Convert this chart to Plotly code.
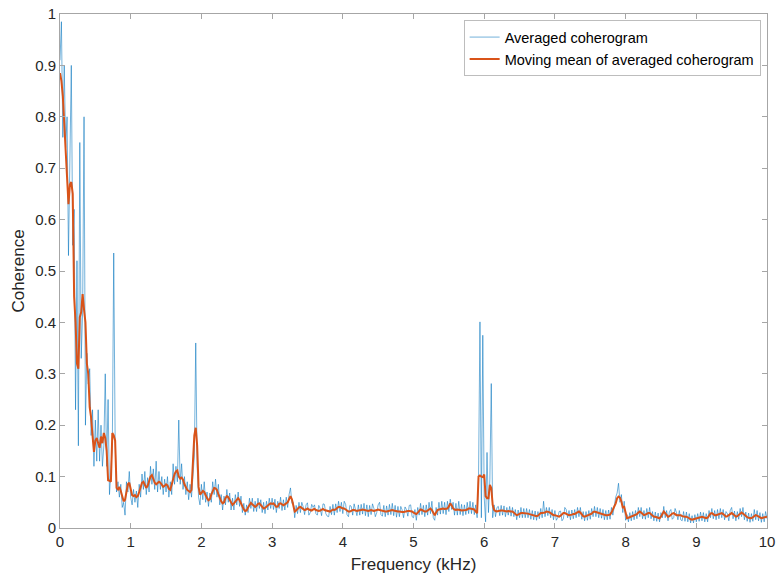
import plotly.graph_objects as go

# Frequency grid: 0 to 10 kHz, step 0.02 kHz (501 bins)
freq_start_khz = 0.0
freq_step_khz = 0.02

averaged_coherogram = [
    0.91, 0.985, 0.76, 0.90, 0.74, 0.80, 0.53, 0.71, 0.90, 0.55,
    0.62, 0.23, 0.52, 0.16, 0.75, 0.33, 0.42, 0.80, 0.20, 0.34,
    0.28, 0.31, 0.18, 0.23, 0.12, 0.21, 0.13, 0.23, 0.13, 0.20,
    0.12, 0.16, 0.30, 0.12, 0.25, 0.065, 0.11, 0.16, 0.535, 0.17,
    0.07, 0.09, 0.06, 0.085, 0.04, 0.05, 0.025, 0.09, 0.07, 0.11,
    0.06, 0.045, 0.075, 0.05, 0.072, 0.04, 0.085, 0.06, 0.105, 0.075,
    0.11, 0.065, 0.098, 0.07, 0.12, 0.085, 0.115, 0.075, 0.13, 0.07,
    0.11, 0.075, 0.10, 0.065, 0.095, 0.07, 0.10, 0.06, 0.09, 0.065,
    0.125, 0.085, 0.12, 0.09, 0.21, 0.085, 0.125, 0.075, 0.10, 0.065,
    0.09, 0.055, 0.085, 0.06, 0.10, 0.14, 0.36, 0.12, 0.06, 0.045,
    0.085, 0.055, 0.09, 0.05, 0.07, 0.042, 0.068, 0.05, 0.09, 0.065,
    0.095, 0.06, 0.085, 0.045, 0.065, 0.035, 0.062, 0.045, 0.075, 0.05,
    0.068, 0.035, 0.058, 0.035, 0.065, 0.045, 0.07, 0.042, 0.062, 0.03,
    0.048, 0.025, 0.045, 0.03, 0.058, 0.038, 0.058, 0.032, 0.052, 0.032,
    0.058, 0.038, 0.055, 0.03, 0.05, 0.028, 0.052, 0.035, 0.058, 0.038,
    0.058, 0.036, 0.056, 0.030, 0.052, 0.038, 0.060, 0.034, 0.055, 0.035,
    0.060, 0.040, 0.065, 0.078, 0.048, 0.050, 0.020, 0.044, 0.028, 0.050,
    0.030, 0.050, 0.041, 0.026, 0.045, 0.049, 0.025, 0.030, 0.046, 0.040,
    0.045, 0.028, 0.025, 0.044, 0.038, 0.024, 0.047, 0.046, 0.028, 0.023,
    0.022, 0.042, 0.026, 0.046, 0.025, 0.047, 0.030, 0.052, 0.032, 0.050,
    0.028, 0.052, 0.046, 0.026, 0.022, 0.044, 0.042, 0.025, 0.047, 0.036,
    0.024, 0.045, 0.025, 0.046, 0.027, 0.048, 0.024, 0.045, 0.022, 0.044,
    0.026, 0.047, 0.038, 0.022, 0.030, 0.045, 0.050, 0.026, 0.023, 0.044,
    0.022, 0.043, 0.025, 0.046, 0.026, 0.048, 0.024, 0.044, 0.021, 0.042,
    0.022, 0.042, 0.035, 0.020, 0.041, 0.036, 0.023, 0.044, 0.045, 0.022,
    0.020, 0.036, 0.015, 0.040, 0.025, 0.048, 0.026, 0.044, 0.022, 0.045,
    0.025, 0.050, 0.028, 0.052, 0.020, 0.015, 0.040, 0.025, 0.050, 0.027,
    0.052, 0.028, 0.050, 0.026, 0.052, 0.032, 0.056, 0.036, 0.050, 0.025,
    0.048, 0.025, 0.052, 0.026, 0.046, 0.024, 0.045, 0.026, 0.050, 0.028,
    0.052, 0.028, 0.050, 0.026, 0.045, 0.020, 0.100, 0.401, 0.020, 0.375,
    0.060, 0.012, 0.147, 0.030, 0.095, 0.281, 0.020, 0.045, 0.022, 0.040,
    0.042, 0.024, 0.044, 0.025, 0.043, 0.022, 0.040, 0.025, 0.042, 0.023,
    0.040, 0.022, 0.036, 0.016, 0.035, 0.020, 0.040, 0.020, 0.038, 0.020,
    0.038, 0.020, 0.036, 0.017, 0.034, 0.016, 0.033, 0.015, 0.032, 0.018,
    0.038, 0.020, 0.052, 0.022, 0.040, 0.024, 0.040, 0.020, 0.036, 0.016,
    0.034, 0.015, 0.020, 0.032, 0.033, 0.014, 0.018, 0.040, 0.036, 0.020,
    0.034, 0.016, 0.035, 0.018, 0.036, 0.020, 0.040, 0.022, 0.040, 0.017,
    0.032, 0.014, 0.032, 0.015, 0.034, 0.017, 0.038, 0.022, 0.042, 0.022,
    0.040, 0.020, 0.038, 0.019, 0.036, 0.016, 0.034, 0.016, 0.035, 0.017,
    0.040, 0.025, 0.045, 0.060, 0.068, 0.087, 0.050, 0.065, 0.030, 0.052,
    0.015, 0.026, 0.012, 0.030, 0.014, 0.032, 0.016, 0.034, 0.018, 0.040,
    0.022, 0.040, 0.018, 0.034, 0.017, 0.038, 0.020, 0.040, 0.018, 0.032,
    0.014, 0.031, 0.013, 0.029, 0.012, 0.030, 0.020, 0.042, 0.020, 0.034,
    0.014, 0.032, 0.036, 0.017, 0.020, 0.038, 0.030, 0.016, 0.034, 0.016,
    0.014, 0.032, 0.013, 0.031, 0.012, 0.028, 0.010, 0.024, 0.010, 0.026,
    0.012, 0.028, 0.013, 0.031, 0.014, 0.030, 0.012, 0.028, 0.012, 0.034,
    0.020, 0.038, 0.018, 0.034, 0.016, 0.036, 0.018, 0.038, 0.020, 0.036,
    0.016, 0.032, 0.028, 0.014, 0.034, 0.040, 0.018, 0.033, 0.014, 0.032,
    0.017, 0.038, 0.022, 0.040, 0.016, 0.031, 0.013, 0.029, 0.011, 0.028,
    0.013, 0.036, 0.016, 0.034, 0.014, 0.030, 0.011, 0.028, 0.012, 0.032,
    0.018,
]

moving_mean = [
    0.885, 0.87, 0.84, 0.79, 0.74, 0.683, 0.63, 0.668, 0.673, 0.65,
    0.45, 0.40, 0.32, 0.31, 0.41, 0.42, 0.455, 0.425, 0.40, 0.32,
    0.30, 0.235, 0.215, 0.18, 0.148, 0.17, 0.175, 0.165, 0.156, 0.178,
    0.165, 0.185, 0.175, 0.15, 0.093, 0.092, 0.09, 0.185, 0.18, 0.17,
    0.078, 0.075, 0.08, 0.072, 0.06, 0.052, 0.055, 0.07, 0.085, 0.088,
    0.078, 0.064, 0.062, 0.064, 0.060, 0.062, 0.070, 0.080, 0.088, 0.090,
    0.085, 0.078, 0.082, 0.092, 0.100, 0.103, 0.095, 0.088, 0.085, 0.088,
    0.090, 0.088, 0.083, 0.080, 0.082, 0.085, 0.083, 0.076, 0.074, 0.085,
    0.100, 0.105, 0.110, 0.112, 0.100, 0.096, 0.098, 0.094, 0.085, 0.078,
    0.074, 0.072, 0.070, 0.074, 0.120, 0.180, 0.195, 0.160, 0.080, 0.065,
    0.068, 0.072, 0.070, 0.062, 0.058, 0.054, 0.056, 0.065, 0.072, 0.078,
    0.077, 0.074, 0.066, 0.058, 0.052, 0.048, 0.050, 0.058, 0.062, 0.060,
    0.054, 0.048, 0.045, 0.048, 0.052, 0.055, 0.058, 0.054, 0.047, 0.041,
    0.036, 0.033, 0.034, 0.040, 0.046, 0.049, 0.046, 0.043, 0.041, 0.043,
    0.047, 0.048, 0.044, 0.040, 0.038, 0.039, 0.042, 0.045, 0.046, 0.048,
    0.047, 0.048, 0.045, 0.041, 0.042, 0.047, 0.048, 0.046, 0.044, 0.046,
    0.048, 0.050, 0.056, 0.062, 0.056, 0.042, 0.032, 0.034, 0.038, 0.040,
    0.041, 0.039, 0.036, 0.035, 0.036, 0.038, 0.036, 0.035, 0.034, 0.036,
    0.037, 0.035, 0.034, 0.033, 0.034, 0.036, 0.037, 0.035, 0.034, 0.033,
    0.032, 0.032, 0.034, 0.036, 0.035, 0.036, 0.039, 0.041, 0.041, 0.039,
    0.038, 0.038, 0.036, 0.033, 0.032, 0.032, 0.034, 0.035, 0.035, 0.034,
    0.033, 0.034, 0.034, 0.035, 0.036, 0.035, 0.035, 0.034, 0.033, 0.034,
    0.035, 0.034, 0.033, 0.034, 0.035, 0.036, 0.035, 0.034, 0.033, 0.033,
    0.032, 0.032, 0.033, 0.034, 0.035, 0.035, 0.034, 0.033, 0.032, 0.032,
    0.032, 0.031, 0.031, 0.031, 0.032, 0.032, 0.033, 0.033, 0.033, 0.032,
    0.030, 0.028, 0.027, 0.030, 0.034, 0.036, 0.035, 0.033, 0.032, 0.032,
    0.034, 0.036, 0.038, 0.035, 0.029, 0.025, 0.030, 0.035, 0.036, 0.037,
    0.038, 0.038, 0.037, 0.037, 0.038, 0.042, 0.048, 0.044, 0.038, 0.036,
    0.035, 0.036, 0.036, 0.035, 0.034, 0.034, 0.034, 0.035, 0.036, 0.038,
    0.038, 0.037, 0.036, 0.036, 0.032, 0.029, 0.100, 0.102, 0.100, 0.099,
    0.104, 0.062, 0.058, 0.058, 0.084, 0.078, 0.045, 0.035, 0.033, 0.032,
    0.033, 0.034, 0.034, 0.034, 0.033, 0.032, 0.032, 0.033, 0.032, 0.032,
    0.032, 0.030, 0.027, 0.025, 0.026, 0.028, 0.029, 0.029, 0.029, 0.029,
    0.029, 0.028, 0.027, 0.026, 0.025, 0.025, 0.024, 0.023, 0.024, 0.027,
    0.029, 0.029, 0.029, 0.030, 0.032, 0.032, 0.031, 0.029, 0.027, 0.025,
    0.025, 0.024, 0.023, 0.022, 0.024, 0.027, 0.029, 0.029, 0.027, 0.026,
    0.025, 0.025, 0.026, 0.027, 0.027, 0.029, 0.031, 0.032, 0.030, 0.026,
    0.023, 0.022, 0.023, 0.024, 0.025, 0.026, 0.028, 0.031, 0.032, 0.031,
    0.030, 0.029, 0.029, 0.028, 0.026, 0.025, 0.025, 0.025, 0.025, 0.026,
    0.030, 0.035, 0.040, 0.048, 0.058, 0.061, 0.059, 0.052, 0.040, 0.041,
    0.030, 0.019, 0.020, 0.021, 0.022, 0.023, 0.024, 0.025, 0.027, 0.030,
    0.032, 0.030, 0.027, 0.025, 0.026, 0.028, 0.029, 0.029, 0.027, 0.024,
    0.022, 0.022, 0.021, 0.020, 0.019, 0.022, 0.028, 0.032, 0.029, 0.025,
    0.022, 0.023, 0.026, 0.028, 0.029, 0.027, 0.025, 0.025, 0.025, 0.025,
    0.023, 0.022, 0.022, 0.022, 0.021, 0.019, 0.017, 0.016, 0.017, 0.018,
    0.019, 0.020, 0.021, 0.022, 0.022, 0.021, 0.020, 0.019, 0.020, 0.024,
    0.028, 0.029, 0.027, 0.025, 0.025, 0.026, 0.027, 0.028, 0.029, 0.027,
    0.024, 0.022, 0.023, 0.025, 0.027, 0.029, 0.027, 0.024, 0.022, 0.023,
    0.026, 0.029, 0.030, 0.028, 0.025, 0.022, 0.021, 0.020, 0.019, 0.019,
    0.021, 0.024, 0.025, 0.024, 0.022, 0.020, 0.019, 0.020, 0.021, 0.022,
    0.022,
]

x_tick_values = [0, 1, 2, 3, 4, 5, 6, 7, 8, 9, 10]
y_tick_values = [0, 0.1, 0.2, 0.3, 0.4, 0.5, 0.6, 0.7, 0.8, 0.9, 1]
y_tick_labels = ["0", "0.1", "0.2", "0.3", "0.4", "0.5", "0.6", "0.7", "0.8", "0.9", "1"]

FONT = "Liberation Sans, Arial, Helvetica, sans-serif"
TEXT = "#262626"
AXIS = "#a6a6a6"

fig = go.Figure()
fig.add_trace(go.Scatter(
    x0=freq_start_khz, dx=freq_step_khz, y=averaged_coherogram,
    mode="lines", name="Averaged coherogram",
    line=dict(color="rgba(0,114,189,0.55)", width=1),
))
fig.add_trace(go.Scatter(
    x0=freq_start_khz, dx=freq_step_khz, y=moving_mean,
    mode="lines", name="Moving mean of averaged coherogram",
    line=dict(color="#D95319", width=2),
))

fig.update_layout(
    width=778, height=577,
    margin=dict(l=60, r=11, t=14, b=49, autoexpand=False),
    paper_bgcolor="white", plot_bgcolor="white",
    font=dict(family=FONT, size=15, color=TEXT),
    showlegend=True,
    legend=dict(
        x=0.991, y=0.988, xanchor="right", yanchor="top",
        bgcolor="white", bordercolor="#bdbdbd", borderwidth=1,
        font=dict(family=FONT, size=14.5, color="#000000"),
        tracegroupgap=0,
    ),
)
fig.update_xaxes(
    range=[0, 10], tickvals=x_tick_values, automargin=False,
    showgrid=False, zeroline=False,
    showline=True, linecolor=AXIS, linewidth=1, mirror="ticks",
    ticks="inside", ticklen=5, tickcolor=AXIS,
    tickfont=dict(size=15, color=TEXT),
    title=dict(text="Frequency (kHz)", font=dict(size=17, color=TEXT), standoff=9),
)
fig.update_yaxes(
    range=[0, 1], tickvals=y_tick_values, ticktext=y_tick_labels, automargin=False,
    showgrid=False, zeroline=False,
    showline=True, linecolor=AXIS, linewidth=1, mirror="ticks",
    ticks="inside", ticklen=5, tickcolor=AXIS,
    tickfont=dict(size=15, color=TEXT),
    title=dict(text="Coherence", font=dict(size=17, color=TEXT), standoff=6),
)

fig.write_html("out.html")
